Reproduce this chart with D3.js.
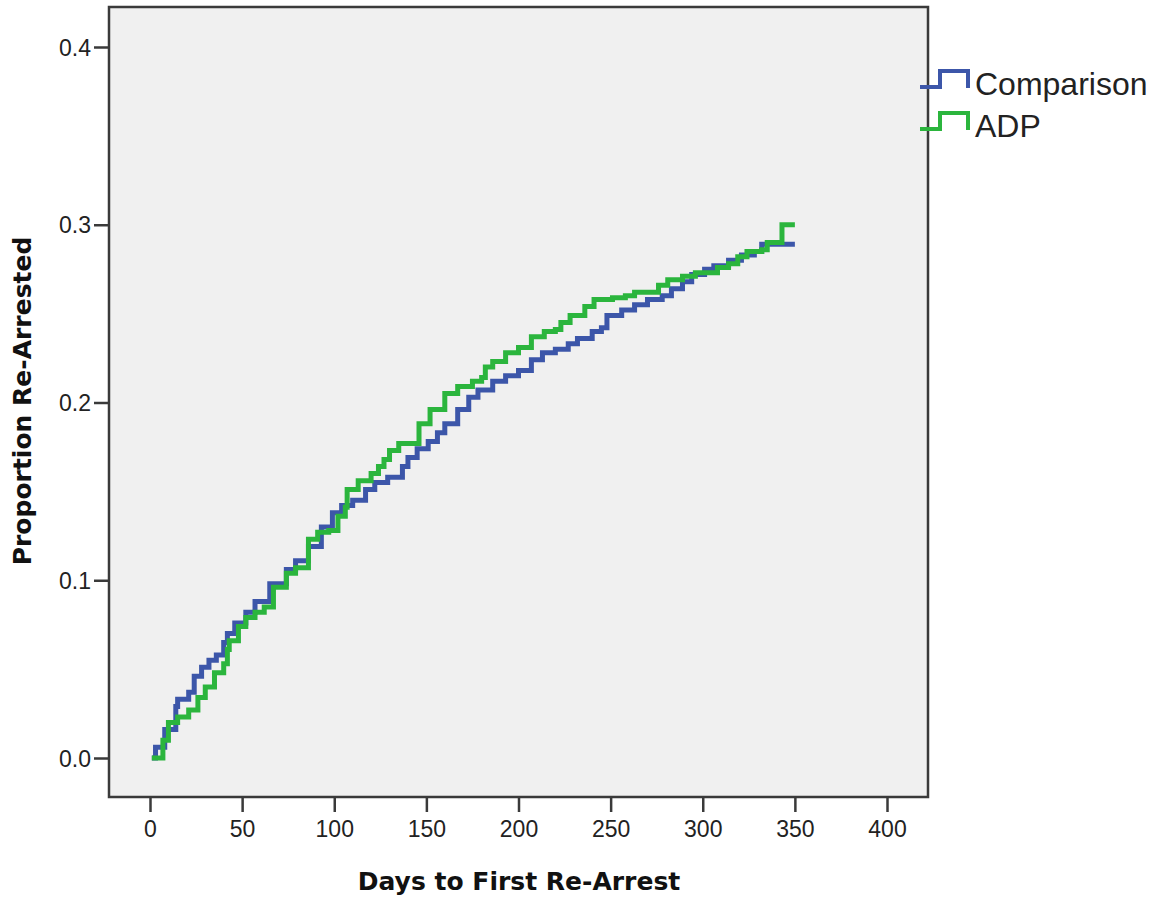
<!DOCTYPE html>
<html>
<head>
<meta charset="utf-8">
<script src="https://cdn.jsdelivr.net/npm/d3@7"></script>
<style>
  body { margin: 0; background: #fff; }
  svg { display: block; }
</style>
</head>
<body>
<svg width="1157" height="897"></svg>
<script>
// days and cumulative proportion re-arrested
var compDays = [1, 3, 8, 14, 15, 21, 24, 28, 32, 36, 40, 42, 46, 52, 57, 65, 74, 79, 86, 93, 99, 104, 110, 117, 122, 129, 137, 140, 145, 151, 156, 160, 167, 173, 178, 186, 193, 200, 207, 213, 220, 227, 232, 240, 245, 248, 256, 263, 270, 278, 283, 289, 294, 301, 306, 314, 321, 328, 332, 350];
var compProp = [0, 0.006, 0.016, 0.029, 0.033, 0.037, 0.046, 0.051, 0.055, 0.058, 0.065, 0.070, 0.076, 0.082, 0.088, 0.098, 0.106, 0.111, 0.119, 0.130, 0.138, 0.142, 0.145, 0.151, 0.155, 0.158, 0.164, 0.169, 0.174, 0.178, 0.183, 0.188, 0.196, 0.203, 0.207, 0.212, 0.215, 0.218, 0.224, 0.228, 0.230, 0.233, 0.236, 0.240, 0.242, 0.249, 0.252, 0.255, 0.258, 0.260, 0.264, 0.268, 0.272, 0.275, 0.277, 0.280, 0.283, 0.285, 0.289, 0.289];

var adpDays = [1, 7, 10, 15, 21, 26, 30, 35, 40, 42, 43, 48, 52, 57, 62, 67, 74, 79, 86, 91, 97, 102, 106, 107, 113, 120, 124, 127, 130, 135, 146, 152, 160, 167, 175, 180, 182, 186, 193, 200, 207, 214, 220, 223, 228, 236, 241, 251, 258, 263, 276, 281, 289, 296, 308, 314, 319, 324, 332, 335, 343, 350];
var adpProp = [0, 0.010, 0.020, 0.023, 0.027, 0.034, 0.040, 0.048, 0.053, 0.061, 0.066, 0.074, 0.079, 0.082, 0.085, 0.096, 0.104, 0.107, 0.123, 0.127, 0.128, 0.136, 0.141, 0.151, 0.156, 0.160, 0.164, 0.168, 0.173, 0.177, 0.188, 0.196, 0.205, 0.209, 0.212, 0.214, 0.220, 0.223, 0.228, 0.231, 0.237, 0.240, 0.241, 0.245, 0.249, 0.254, 0.258, 0.259, 0.260, 0.262, 0.266, 0.269, 0.271, 0.273, 0.276, 0.278, 0.282, 0.285, 0.286, 0.290, 0.300, 0.300];

var xTicks = [0, 50, 100, 150, 200, 250, 300, 350, 400];
var yTicks = [0, 0.1, 0.2, 0.3, 0.4];
var seriesNames = ["Comparison", "ADP"];
var seriesColors = ["#3c56a9", "#2bb53d"];

var svg = d3.select("svg");

// plot frame edges
var frameL = 109, frameR = 928, frameT = 7, frameB = 797;

var xScale = d3.scaleLinear().domain([0, 400]).range([150, 887]);
var yScale = d3.scaleLinear().domain([0, 0.4]).range([758, 47]);

// plot background
svg.append("rect")
  .attr("x", frameL).attr("y", frameT)
  .attr("width", frameR - frameL).attr("height", frameB - frameT)
  .attr("fill", "#f0f0f0");

// curves
var line = d3.line()
  .x(function(d) { return xScale(d[0]); })
  .y(function(d) { return yScale(d[1]); })
  .curve(d3.curveStepAfter);

var series = [
  d3.zip(compDays, compProp),
  d3.zip(adpDays, adpProp)
];

series.forEach(function(s, i) {
  svg.append("path")
    .datum(s)
    .attr("d", line)
    .attr("fill", "none")
    .attr("stroke", seriesColors[i])
    .attr("stroke-width", 5)
    .attr("stroke-linejoin", "miter");
});

// frame
svg.append("rect")
  .attr("x", frameL).attr("y", frameT)
  .attr("width", frameR - frameL).attr("height", frameB - frameT)
  .attr("fill", "none")
  .attr("stroke", "#3a3a3a")
  .attr("stroke-width", 2.5);

// axes
var xAxis = svg.append("g")
  .attr("transform", "translate(0," + frameB + ")")
  .call(d3.axisBottom(xScale).tickValues(xTicks).tickSize(15).tickPadding(9));

var yAxis = svg.append("g")
  .attr("transform", "translate(" + frameL + ",0)")
  .call(d3.axisLeft(yScale).tickValues(yTicks).tickSize(15).tickPadding(3).tickFormat(d3.format(".1f")));

[xAxis, yAxis].forEach(function(g) {
  g.select(".domain").remove();
  g.selectAll(".tick line").attr("stroke", "#3a3a3a").attr("stroke-width", 2.5);
  g.selectAll(".tick text")
    .attr("fill", "#222")
    .style("font-family", "'Liberation Sans', Arial, sans-serif")
    .style("font-size", "23px");
});
yAxis.selectAll(".tick text").attr("dy", "0.35em");

// axis titles
svg.append("text")
  .attr("x", 519).attr("y", 890)
  .attr("text-anchor", "middle")
  .style("font-family", "'DejaVu Sans', Verdana, sans-serif")
  .style("font-weight", "bold")
  .style("font-size", "25px")
  .attr("fill", "#111")
  .text("Days to First Re-Arrest");

svg.append("text")
  .attr("transform", "translate(31,401) rotate(-90)")
  .attr("text-anchor", "middle")
  .style("font-family", "'DejaVu Sans', Verdana, sans-serif")
  .style("font-weight", "bold")
  .style("font-size", "25px")
  .attr("fill", "#111")
  .text("Proportion Re-Arrested");

// legend
var legend = svg.append("g");
seriesNames.forEach(function(name, i) {
  var y0 = 87 + i * 42;
  legend.append("path")
    .attr("d", "M920," + y0 + "H940V" + (y0 - 16) + "H968V" + (y0 + 1))
    .attr("fill", "none")
    .attr("stroke", seriesColors[i])
    .attr("stroke-width", 4);
  legend.append("text")
    .attr("x", 975).attr("y", y0 + 8)
    .style("font-family", "'Liberation Sans', Arial, sans-serif")
    .style("font-size", "32px")
    .attr("fill", "#222")
    .text(name);
});
</script>
</body>
</html>
